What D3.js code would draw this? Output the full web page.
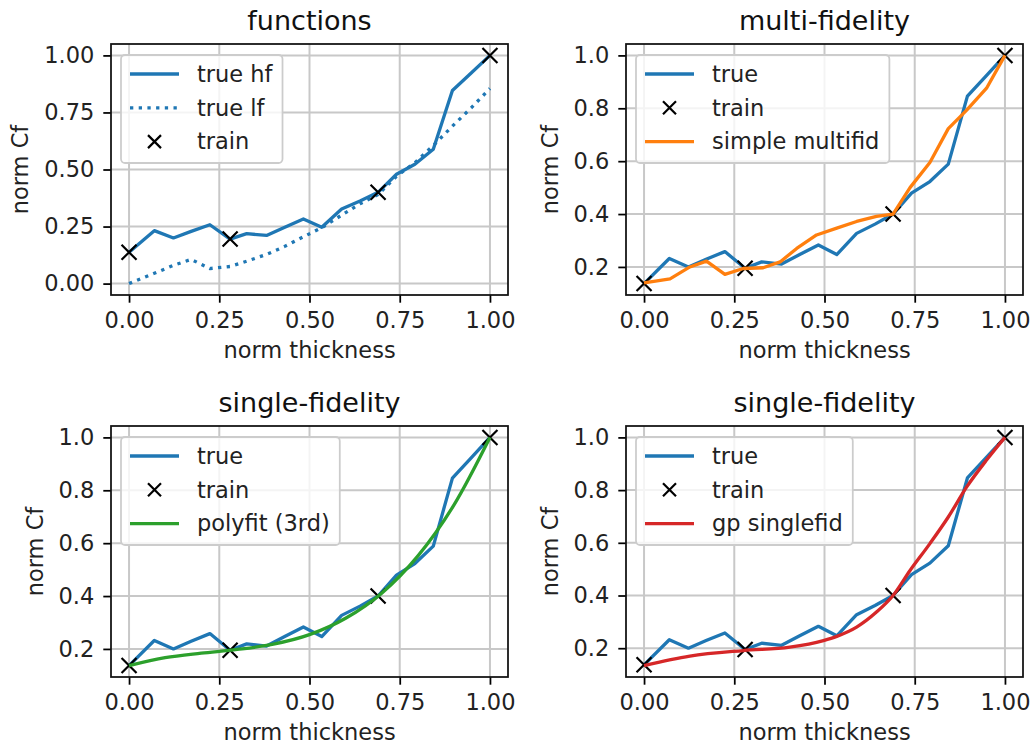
<!DOCTYPE html>
<html>
<head>
<meta charset="utf-8">
<script src="https://cdn.jsdelivr.net/npm/d3@7"></script>
<style>
  body { margin: 0; background: #fff; }
  svg  { display: block; font-family: "DejaVu Sans", sans-serif; }
</style>
</head>
<body>
<svg id="chart" width="1032" height="747"></svg>
<script>
/* ── Data ──────────────────────────────────────────────── */
const thickness = [0, 0.07, 0.123, 0.172, 0.224, 0.28, 0.326, 0.381, 0.43, 0.483,
                   0.534, 0.589, 0.64, 0.69, 0.741, 0.792, 0.843, 0.896, 0.948, 1.0];
const trueHf    = [0.137, 0.232, 0.20, 0.229, 0.258, 0.195, 0.219, 0.211, 0.246, 0.283,
                   0.247, 0.327, 0.362, 0.40, 0.479, 0.523, 0.589, 0.846, 0.923, 1.0];
const trueLf    = [0.0, 0.045, 0.08, 0.106, 0.066, 0.075, 0.098, 0.128, 0.162, 0.205,
                   0.245, 0.30, 0.35, 0.39, 0.47, 0.53, 0.605, 0.69, 0.77, 0.855];

const trainX = [0, 0.28, 0.69, 1.0];
const trainY = [0.137, 0.195, 0.40, 1.0];

const multifidX = [0, 0.072, 0.127, 0.173, 0.224, 0.275, 0.33, 0.377, 0.423, 0.478,
                   0.534, 0.589, 0.644, 0.69, 0.737, 0.792, 0.843, 0.894, 0.949, 1.0];
const multifidY = [0.14, 0.155, 0.20, 0.222, 0.172, 0.194, 0.197, 0.219, 0.27, 0.321,
                   0.347, 0.372, 0.391, 0.40, 0.50, 0.595, 0.723, 0.793, 0.876, 1.0];

const polyfitX = [0, 0.1, 0.2, 0.3, 0.4, 0.5, 0.6, 0.7, 0.8, 0.9, 1.0];
const polyfitY = [0.137, 0.167, 0.184, 0.198, 0.218, 0.254, 0.316, 0.411, 0.551, 0.744, 1.0];

const gpX = [0, 0.127, 0.275, 0.404, 0.497, 0.534, 0.589, 0.644, 0.69, 0.737,
             0.792, 0.843, 0.894, 0.949, 1.0];
const gpY = [0.134, 0.17, 0.191, 0.204, 0.229, 0.245, 0.28, 0.337, 0.40, 0.495,
             0.597, 0.698, 0.812, 0.914, 1.0];

const xTicks      = [0, 0.25, 0.5, 0.75, 1.0];
const yTicksWide  = [0, 0.25, 0.5, 0.75, 1.0];
const yTicksFine  = [0.2, 0.4, 0.6, 0.8, 1.0];

/* ── Styling ───────────────────────────────────────────── */
const C = { blue: '#1f77b4', orange: '#ff7f0e', green: '#2ca02c', red: '#d62728' };
const FS = 22.5, TITLE_FS = 27, LW = 3.3, TICK = 7.7;
const cols = [[111, 508], [626, 1023]];
const rows = [[44, 295], [426, 677]];

const zip = (xs, ys) => xs.map((x, i) => ({ x, y: ys[i] }));

const hfSeries    = { label: 'true', kind: 'line', color: C.blue, data: zip(thickness, trueHf) };
const trainSeries = { label: 'train', kind: 'x', color: '#000', data: zip(trainX, trainY) };

const panels = [
  { title: 'functions', col: 0, row: 0, yTicks: yTicksWide, fmt: '.2f',
    series: [
      { ...hfSeries, label: 'true hf' },
      { label: 'true lf', kind: 'line', dash: '3.3,5.4', color: C.blue, data: zip(thickness, trueLf) },
      trainSeries,
    ] },
  { title: 'multi-fidelity', col: 1, row: 0, yTicks: yTicksFine, fmt: '.1f',
    series: [hfSeries, trainSeries,
      { label: 'simple multifid', kind: 'line', color: C.orange, data: zip(multifidX, multifidY) }] },
  { title: 'single-fidelity', col: 0, row: 1, yTicks: yTicksFine, fmt: '.1f',
    series: [hfSeries, trainSeries,
      { label: 'polyfit (3rd)', kind: 'line', smooth: true, color: C.green, data: zip(polyfitX, polyfitY) }] },
  { title: 'single-fidelity', col: 1, row: 1, yTicks: yTicksFine, fmt: '.1f',
    series: [hfSeries, trainSeries,
      { label: 'gp singlefid', kind: 'line', smooth: true, color: C.red, data: zip(gpX, gpY) }] },
];

const svg = d3.select('#chart');

function xMark(r) { return `M${-r},${-r}L${r},${r}M${-r},${r}L${r},${-r}`; }

/* ── One subplot ───────────────────────────────────────── */
function drawPanel(p) {
  const [L, R] = cols[p.col];
  const [T, B] = rows[p.row];

  const allY = p.series.flatMap(s => s.data.map(d => d.y));
  const [ymin, ymax] = d3.extent(allY);
  const yPad = (ymax - ymin) * 0.05;

  const x = d3.scaleLinear().domain([-0.05, 1.05]).range([L, R]);
  const y = d3.scaleLinear().domain([ymin - yPad, ymax + yPad]).range([B, T]);

  const g = svg.append('g');

  // grid
  g.append('g').selectAll('line').data(xTicks).join('line')
    .attr('x1', d => x(d)).attr('x2', d => x(d)).attr('y1', T).attr('y2', B)
    .attr('stroke', '#c8c8c8').attr('stroke-width', 2);
  g.append('g').selectAll('line').data(p.yTicks).join('line')
    .attr('y1', d => y(d)).attr('y2', d => y(d)).attr('x1', L).attr('x2', R)
    .attr('stroke', '#c8c8c8').attr('stroke-width', 2);

  // axes
  const xa = g.append('g').attr('transform', `translate(0,${B})`)
    .call(d3.axisBottom(x).tickValues(xTicks).tickFormat(d3.format('.2f'))
      .tickSize(TICK).tickPadding(9));
  const ya = g.append('g').attr('transform', `translate(${L},0)`)
    .call(d3.axisLeft(y).tickValues(p.yTicks).tickFormat(d3.format(p.fmt))
      .tickSize(TICK).tickPadding(9));
  [xa, ya].forEach(a => {
    a.select('.domain').remove();
    a.selectAll('line').attr('stroke', '#000').attr('stroke-width', 1.76);
    a.selectAll('text').attr('font-size', FS).attr('fill', '#222')
      .attr('font-family', '"DejaVu Sans", sans-serif');
  });

  // series
  p.series.forEach(s => {
    if (s.kind === 'line') {
      const line = d3.line().x(d => x(d.x)).y(d => y(d.y))
        .curve(s.smooth ? d3.curveMonotoneX : d3.curveLinear);
      g.append('path').datum(s.data).attr('d', line)
        .attr('fill', 'none').attr('stroke', s.color).attr('stroke-width', LW)
        .attr('stroke-dasharray', s.dash || null)
        .attr('stroke-linejoin', 'round');
    } else {
      g.append('g').selectAll('path').data(s.data).join('path')
        .attr('transform', d => `translate(${x(d.x)},${y(d.y)})`)
        .attr('d', xMark(7.5)).attr('fill', 'none')
        .attr('stroke', s.color).attr('stroke-width', 2.2);
    }
  });

  // spines
  g.append('rect').attr('x', L).attr('y', T).attr('width', R - L).attr('height', B - T)
    .attr('fill', 'none').attr('stroke', '#111').attr('stroke-width', 1.76);

  // title + labels
  g.append('text').attr('x', (L + R) / 2).attr('y', T - 14)
    .attr('text-anchor', 'middle').attr('font-size', TITLE_FS).attr('fill', '#111')
    .text(p.title);
  g.append('text').attr('x', (L + R) / 2).attr('y', B + 63)
    .attr('text-anchor', 'middle').attr('font-size', FS).attr('fill', '#222')
    .text('norm thickness');

  const tickW = d3.max(ya.selectAll('text').nodes(), n => n.getComputedTextLength());
  const ylx = L - TICK - 9 - tickW - 16;
  g.append('text').attr('transform', `translate(${ylx},${(T + B) / 2}) rotate(-90)`)
    .attr('text-anchor', 'middle').attr('font-size', FS).attr('fill', '#222')
    .text('norm Cf');

  // legend (upper left)
  const lx = L + 10, ly = T + 11, rowH = 33.8;
  const lg = g.append('g');
  const box = lg.append('rect').attr('x', lx).attr('y', ly).attr('rx', 4)
    .attr('fill', 'rgba(255,255,255,0.8)').attr('stroke', '#cccccc').attr('stroke-width', 1.76);
  let maxW = 0;
  p.series.forEach((s, i) => {
    const cy = ly + 19 + i * rowH;
    if (s.kind === 'line') {
      lg.append('line').attr('x1', lx + 9).attr('x2', lx + 58).attr('y1', cy).attr('y2', cy)
        .attr('stroke', s.color).attr('stroke-width', LW)
        .attr('stroke-dasharray', s.dash || null);
    } else {
      lg.append('path').attr('transform', `translate(${lx + 33.5},${cy})`)
        .attr('d', xMark(6.5)).attr('fill', 'none')
        .attr('stroke', s.color).attr('stroke-width', 2.2);
    }
    const t = lg.append('text').attr('x', lx + 76).attr('y', cy).attr('dy', '0.35em')
      .attr('font-size', FS).attr('fill', '#222').text(s.label);
    maxW = Math.max(maxW, t.node().getComputedTextLength());
  });
  box.attr('width', 76 + maxW + 10).attr('height', 108);
}

panels.forEach(drawPanel);
</script>
</body>
</html>
